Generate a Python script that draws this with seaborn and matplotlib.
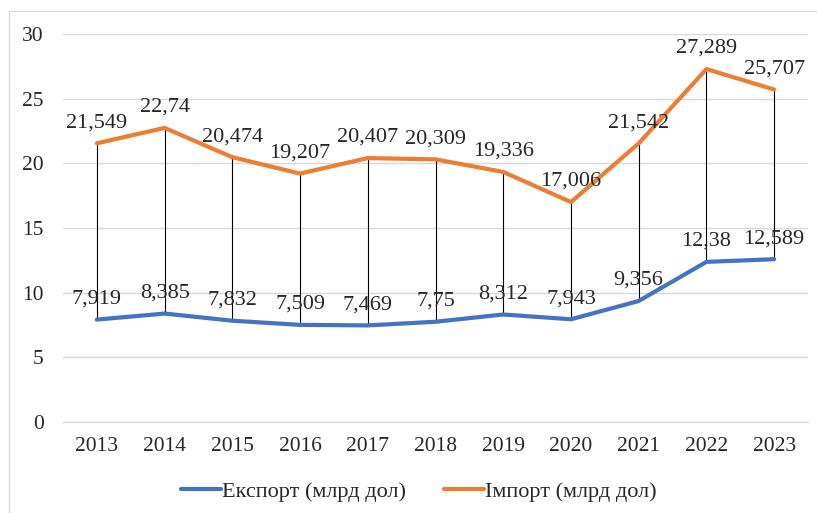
import pandas as pd
import seaborn as sns
import matplotlib.pyplot as plt
from matplotlib.patches import Rectangle

# Дані
years = ['2013', '2014', '2015', '2016', '2017', '2018', '2019', '2020', '2021', '2022', '2023']
export_vals = [7.919, 8.385, 7.832, 7.509, 7.469, 7.75, 8.312, 7.943, 9.356, 12.38, 12.589]
import_vals = [21.549, 22.74, 20.474, 19.207, 20.407, 20.309, 19.336, 17.006, 21.542, 27.289, 25.707]
export_name = 'Експорт (млрд дол)'
import_name = 'Імпорт (млрд дол)'

sns.set_style('white')
plt.rcParams['font.family'] = ['Liberation Serif', 'DejaVu Serif']

df = pd.DataFrame({
    'year': years * 2,
    'value': export_vals + import_vals,
    'series': [export_name] * len(years) + [import_name] * len(years),
})
df['x'] = list(range(len(years))) * 2

fig = plt.figure(figsize=(8.17, 5.13), dpi=100)
fig.patches.append(Rectangle((9 / 817, -0.1), 1.2, 1 - 11 / 513 + 0.1, transform=fig.transFigure,
                             fill=False, edgecolor='#d9d9d9', linewidth=1))
ax = fig.add_axes([63 / 817, 1 - 422 / 513, (808 - 63) / 817, (422 - 34) / 513])

# лінії між експортом та імпортом
ax.vlines(range(len(years)), export_vals, import_vals, color='black', linewidth=0.8, zorder=2)

sns.lineplot(data=df, x='x', y='value', hue='series', ax=ax,
             palette={export_name: '#4472C4', import_name: '#ED7D31'},
             linewidth=3, legend=False, zorder=3)

# підписи даних
def fmt(v):
    return ('%g' % v).replace('.', ',')

for i, v in enumerate(export_vals):
    ax.annotate(fmt(v), (i, v), xytext=(0, 8), textcoords='offset points',
                ha='center', va='bottom', fontsize=16, zorder=4)
for i, v in enumerate(import_vals):
    ax.annotate(fmt(v), (i, v), xytext=(0, 8), textcoords='offset points',
                ha='center', va='bottom', fontsize=16, zorder=4)

ax.set_xlim(-0.5, len(years) - 0.5)
ax.set_ylim(0, 30)
ax.set_yticks(range(0, 31, 5))
ax.set_xticks(range(len(years)))
ax.set_xticklabels(years)
ax.set_xticks([i - 0.5 for i in range(len(years) + 1)], minor=True)
ax.tick_params(axis='y', length=0, pad=14, labelsize=15.5)
ax.tick_params(axis='x', which='major', length=0, pad=11, labelsize=15.5)
ax.tick_params(axis='x', which='minor', length=5, color='#d9d9d9', width=1)
ax.grid(axis='y', color='#d9d9d9', linewidth=1)
ax.set_axisbelow(True)
ax.set_xlabel('')
ax.set_ylabel('')
for s in ['top', 'right', 'left']:
    ax.spines[s].set_visible(False)
ax.spines['bottom'].set_color('#d9d9d9')
ax.spines['bottom'].set_linewidth(1)

handles = [plt.Line2D([], [], color='#4472C4', linewidth=3),
           plt.Line2D([], [], color='#ED7D31', linewidth=3)]
fig.legend(handles, [export_name, import_name], loc='center', bbox_to_anchor=(0.513, 0.041),
           ncol=2, frameon=False, fontsize=16, handlelength=1.8, handletextpad=0.05,
           columnspacing=1.7)

fig.savefig('out.png', dpi=100)
